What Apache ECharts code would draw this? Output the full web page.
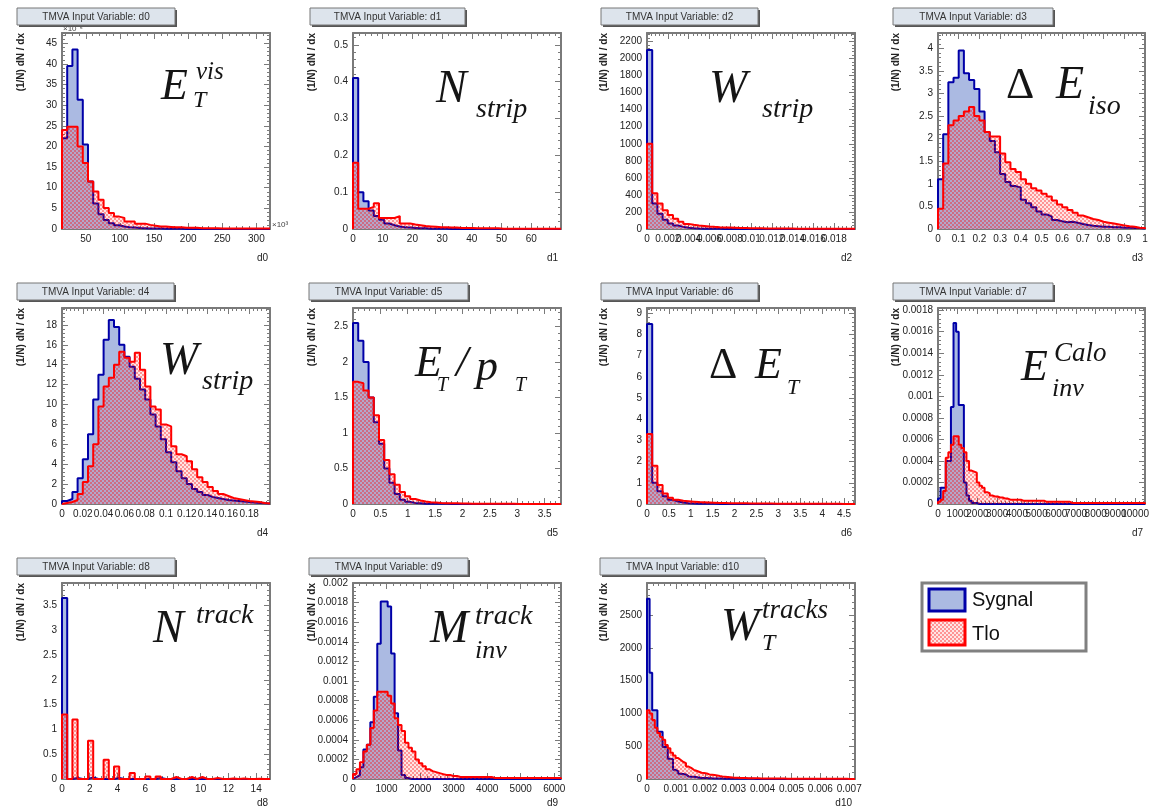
<!DOCTYPE html>
<html><head><meta charset="utf-8">
<script src="https://cdn.jsdelivr.net/npm/echarts@6/dist/echarts.min.js"></script>
<style>html,body{margin:0;padding:0;background:#fff}#c{width:1154px;height:810px}</style>
</head><body><div id="c"></div>
<script>
// ---------------- DATA (histogram bin contents) ----------------
const varNames = ['d0','d1','d2','d3','d4','d5','d6','d7','d8','d9','d10'];
const legendNames = ['Sygnal','Tlo'];

const d0_sig = [22,39.5,43.5,31.3,20.5,11.5,6.2,3.6,2.2,1.4,0.9,0.6,0.45,0.35,0.25,0.2,0.15,0.12,0.1,0.08,0.06,0.05,0.04,0.03,0.03,0.02,0.02,0.02,0.01,0.01,0.01,0.01,0.01,0,0,0,0,0,0,0];
const d0_bkg = [24,24.8,24.8,20,16,11.5,9.1,7.1,5.1,3.9,3.0,2.7,1.8,1.8,1.3,1.3,1.0,0.8,0.6,0.6,0.5,0.4,0.4,0.3,0.3,0.3,0.2,0.2,0.2,0.2,0.15,0.15,0.1,0.1,0.1,0.1,0.1,0.1,0.1,0.1];

const d1_sig = [0.41,0.10,0.075,0.05,0.035,0.025,0.015,0.01,0.007,0.005,0.004,0.003,0.002,0.002,0.001,0.001,0.001,0.001,0,0,0,0,0,0,0,0,0,0,0,0,0,0,0,0,0,0,0,0,0,0];
const d1_bkg = [0.18,0.055,0.055,0.06,0.07,0.03,0.03,0.03,0.035,0.015,0.015,0.012,0.01,0.008,0.007,0.006,0.005,0.005,0.004,0.004,0.003,0.003,0.003,0.002,0.002,0.002,0.002,0.002,0.001,0.001,0.001,0.001,0.001,0.001,0.001,0.001,0.001,0.001,0.001,0.001];

const d2_sig = [2100,300,180,110,65,40,25,15,10,6,4,3,2,1.5,1,1,0.5,0.5,0.5,0.3,0.3,0.2,0.2,0.1,0.1,0,0,0,0,0,0,0,0,0,0,0,0,0,0,0];
const d2_bkg = [1000,420,300,220,165,120,85,60,50,42,36,30,25,21,19,17,15,13,12,10,9,8,7,7,6,6,5,5,4,4,4,3,3,3,3,2,2,2,2,2];

const d3_sig = [1.1,2.1,3.25,3.35,3.95,3.45,3.3,3.1,2.6,2.15,1.95,1.7,1.22,1.04,0.95,0.92,0.65,0.57,0.48,0.39,0.32,0.28,0.2,0.17,0.15,0.16,0.14,0.11,0.09,0.07,0.06,0.05,0.05,0.04,0.04,0.03,0.03,0.02,0.02,0.01];
const d3_bkg = [0.45,1.45,2.3,2.4,2.5,2.6,2.7,2.5,2.4,2.15,2.05,2.05,1.67,1.48,1.33,1.26,1.1,1.0,0.9,0.85,0.78,0.72,0.63,0.54,0.48,0.42,0.36,0.3,0.26,0.22,0.2,0.16,0.14,0.12,0.1,0.08,0.06,0.05,0.03,0.02];

const d4_sig = [0.3,0.5,1.2,2.6,4.5,7.0,10.5,13.0,16.5,18.5,17.8,16.0,14.8,13.8,12.6,11.5,10.5,9.0,7.8,6.5,5.2,4.2,3.3,2.6,2.0,1.5,1.2,0.9,0.7,0.6,0.5,0.4,0.35,0.3,0.25,0.2,0.15,0.1,0.08,0.05];
const d4_bkg = [0.1,0.2,0.4,1.0,2.2,3.8,6.0,9.8,11.8,12.7,14.0,15.3,14.7,14.3,15.2,13.5,11.8,9.8,9.5,8.0,7.8,5.8,5.0,4.8,4.3,3.5,2.7,2.2,1.7,1.3,1.0,0.8,0.6,0.5,0.4,0.3,0.25,0.2,0.1,0.05];

const d5_sig = [2.55,2.3,2.0,1.5,1.15,0.85,0.5,0.3,0.14,0.06,0.03,0.015,0.01,0.005,0.005,0.003,0.002,0.002,0.001,0.001,0,0,0,0,0,0,0,0,0,0,0,0,0,0,0,0,0,0,0,0];
const d5_bkg = [1.72,1.70,1.6,1.5,1.25,0.9,0.62,0.42,0.27,0.17,0.11,0.07,0.05,0.035,0.025,0.02,0.015,0.012,0.01,0.01,0.008,0.007,0.005,0.004,0.003,0.003,0.003,0.002,0.002,0.002,0.002,0.001,0.001,0.001,0.001,0.001,0.001,0.001,0.001,0.001];

const d6_sig = [8.5,1.0,0.6,0.37,0.2,0.12,0.07,0.04,0.025,0.015,0.01,0.008,0.006,0.005,0.004,0.003,0.002,0.002,0.001,0.001,0,0,0,0,0,0,0,0,0,0,0,0,0,0,0,0,0,0,0,0];
const d6_bkg = [3.3,1.8,0.9,0.5,0.3,0.2,0.15,0.13,0.11,0.09,0.08,0.07,0.06,0.05,0.045,0.04,0.035,0.03,0.03,0.025,0.025,0.02,0.02,0.02,0.015,0.015,0.015,0.01,0.01,0.01,0.01,0.01,0.01,0.008,0.008,0.006,0.006,0.005,0.005,0.005];

const d7_sig = [0.00005,0.00015,0.00015,0.0004,0.0004,0.0009,0.00168,0.0016,0.00092,0.00092,0.0002,0.00008,0.00003,0.00001,0.00001,0,0,0,0,0,0,0,0,0,0,0,0,0,0,0,0,0,0,0,0,0,0,0,0,0,0,0,0,0,0,0,0,0,0,0,0,0,0,0,0,0,0,0,0,0,0,0,0,0,0,0,0,0,0,0,0,0,0,0,0,0,0,0,0,0];
const d7_bkg = [0.00002,0.00004,0.00012,0.00043,0.00048,0.00055,0.00063,0.00063,0.00055,0.00052,0.00048,0.0004,0.00031,0.0003,0.00029,0.0002,0.00017,0.00015,0.00011,0.0001,0.00008,0.00007,0.00007,0.00006,0.00006,0.00005,0.00005,0.00004,0.00004,0.00004,0.00004,0.00004,0.00003,0.00003,0.00003,0.00003,0.00003,0.00003,0.00003,0.00003,0.00003,0.00002,0.00002,0.00002,0.00002,0.00002,0.00002,0.00002,0.00002,0.00002,0.00002,0.00001,0.00001,0.00001,0.00001,0.00001,0.00001,0.00001,0.00001,0.00001,0.00001,0.00001,0.00001,0.00001,0.00001,0.00001,0.00001,0.00001,0.00001,0.00001,0.00001,0.00001,0.00001,0.00001,0.00001,0.00001,0.00001,0.00001,0.00001,0.00001];

const d8_sig = [3.65,0,0.02,0,0,0.03,0,0,0,0,0.02,0,0,0,0,0,0,0,0.02,0,0,0,0,0,0,0,0,0,0,0,0,0,0,0,0,0,0,0,0,0];
const d8_bkg = [1.3,0,1.2,0,0,0.77,0,0,0.39,0,0.25,0,0,0.12,0,0,0.05,0,0.05,0,0,0.04,0,0,0.04,0,0.04,0,0,0.02,0,0,0.01,0,0.01,0,0,0.005,0,0];

const d9_sig = [0.00002,0.00004,0.00012,0.0003,0.00035,0.00058,0.00084,0.00138,0.00181,0.00181,0.00176,0.00128,0.00067,0.00029,0.00004,0.00001,0,0,0,0,0,0,0,0,0,0,0,0,0,0,0,0,0,0,0,0,0,0,0,0,0,0,0,0,0,0,0,0,0,0,0,0,0,0,0,0,0,0,0,0];
const d9_bkg = [0.00005,0.0001,0.00017,0.00028,0.00035,0.00052,0.0007,0.00089,0.00089,0.00089,0.00085,0.00077,0.00062,0.00055,0.00049,0.00037,0.00032,0.00028,0.0002,0.00016,0.00013,0.0001,0.00008,0.00007,0.00006,0.00005,0.00004,0.00004,0.00003,0.00003,0.00002,0.00002,0.00002,0.00002,0.00002,0.00002,0.00002,0.00002,0.00002,0.00002,0.00001,0.00001,0.00001,0.00001,0.00001,0.00001,0.00001,0.00001,0.00001,0.00001,0.00001,0.00001,0.00001,0.00001,0.00001,0.00001,0.00001,0.00001,0.00001,0.00001];

const d10_sig = [2750,1620,1050,1050,720,720,490,490,310,300,140,120,80,75,70,40,36,34,30,18,16,15,14,12,10,9,8,7,6,5,5,4,4,3,3,3,2,2,2,2,2,1,1,1,1,1,1,1,1,1,0,0,0,0,0,0,0,0,0,0,0,0,0,0,0,0,0,0,0,0,0,0,0,0,0,0,0,0,0,0];
const d10_bkg = [1050,1000,900,780,700,640,600,520,470,400,360,320,290,260,240,190,170,140,125,110,95,90,85,70,65,60,55,45,40,36,32,28,22,20,18,16,15,14,13,12,11,10,10,9,9,8,8,7,7,7,6,6,6,5,5,5,5,5,4,4,4,4,4,3,3,3,3,3,3,2,2,2,2,2,2,2,2,1,1,1];

const sigData = [d0_sig,d1_sig,d2_sig,d3_sig,d4_sig,d5_sig,d6_sig,d7_sig,d8_sig,d9_sig,d10_sig];
const bkgData = [d0_bkg,d1_bkg,d2_bkg,d3_bkg,d4_bkg,d5_bkg,d6_bkg,d7_bkg,d8_bkg,d9_bkg,d10_bkg];

// axis ranges (histogram range = x-axis range)
const xMins = [15,0,0,0,0,0,0,0,0,0,0];
const xMaxs = [320,70,0.02,1,0.2,3.8,4.75,10500,15,6200,0.0072];
const xInts = [null,10,0.002,0.1,0.02,0.5,0.5,1000,2,1000,0.001];
const yMaxs = [47.5,0.532,2300,4.34,19.7,2.76,9.25,0.00182,3.95,0.002,2990];
const yInts = [5,0.1,200,0.5,2,0.5,1,0.0002,0.5,0.0002,500];

// ---------------- LAYOUT / STYLE ----------------
const colL = [62,353,647,938], colW = [208,208,208,207];
const rowT = [33,308,583], rowH = 196;
const titleBoxX = [[17,175],[310,465],[601,758],[893,1053],[17,174],[309,468],[601,758],[893,1053],[17,175],[309,468],[600,765]];
const titleBoxY = [8,283,558];
const yTitleX = [21,312,604,896];
const xNameX = [268,558,852,1143], xNameY = [258,533,803];

const showXMax = [false,false,false,true,false,false,false,false,false,false,false];
const showYMax = [false,false,false,false,false,false,false,false,false,true,false];

const AX = '#7a7a7a';
const pc = document.createElement('canvas'); pc.width = 4; pc.height = 4;
const cx = pc.getContext('2d');
cx.fillStyle = 'rgba(255,0,0,0.42)'; cx.fillRect(0,0,2,2); cx.fillRect(2,2,2,2);
cx.fillStyle = 'rgba(255,0,0,0.10)'; cx.fillRect(2,0,2,2); cx.fillRect(0,2,2,2);
const hatch = {image: pc, repeat: 'repeat'};

function fmt(v){ return String(parseFloat(Number(v).toPrecision(10))); }

function hist(min, max, vals){
  const n = vals.length, w = (max - min) / n, pts = [[min, 0]];
  for (let i = 0; i < n; i++) pts.push([min + i * w, vals[i]]);
  pts.push([max, vals[n-1]]); pts.push([max, 0]);
  return pts;
}

const option = {animation:false, backgroundColor:'#fff', grid:[], xAxis:[], yAxis:[], series:[], graphic:[]};
const lab = {fontSize:10, color:'#222', fontFamily:'Liberation Sans, Arial, sans-serif'};

for (let i = 0; i < 11; i++){
  const c = i % 4, r = Math.floor(i / 4);
  option.grid.push({left:colL[c], top:rowT[r], width:colW[c], height:rowH, show:false});
  ['bottom','top'].forEach(pos => {
    const ax = {type:'value', gridIndex:i, position:pos, min:xMins[i], max:xMaxs[i],
      axisLine:{show:true, onZero:false, lineStyle:{color:AX, width:2}},
      axisTick:{show:true, inside:true, length:6, lineStyle:{color:AX, width:1}},
      minorTick:{show:true, splitNumber:5, length:3, lineStyle:{color:AX, width:1}},
      splitLine:{show:false}, minorSplitLine:{show:false},
      axisLabel:Object.assign({show:pos==='bottom', margin:5, formatter:fmt,
        showMinLabel: i !== 0, showMaxLabel: showXMax[i]}, lab)};
    if (xInts[i]) ax.interval = xInts[i]; else ax.splitNumber = 6;
    option.xAxis.push(ax);
  });
  ['left','right'].forEach(pos => {
    option.yAxis.push({type:'value', gridIndex:i, position:pos, min:0, max:yMaxs[i], interval:yInts[i],
      axisLine:{show:true, onZero:false, lineStyle:{color:AX, width:2}},
      axisTick:{show:true, inside:true, length:6, lineStyle:{color:AX, width:1}},
      minorTick:{show:true, splitNumber:5, length:3, lineStyle:{color:AX, width:1}},
      splitLine:{show:false}, minorSplitLine:{show:false},
      axisLabel:Object.assign({show:pos==='left', margin:5, formatter:fmt, showMaxLabel: showYMax[i]}, lab)});
  });
  option.series.push({type:'line', name:legendNames[0], xAxisIndex:2*i, yAxisIndex:2*i,
    data:hist(xMins[i], xMaxs[i], sigData[i]), step:'end', symbol:'none', silent:true, clip:true, z:2,
    lineStyle:{color:'#0000a8', width:2}, areaStyle:{color:'#abbae2', opacity:1}});
  option.series.push({type:'line', name:legendNames[1], xAxisIndex:2*i, yAxisIndex:2*i,
    data:hist(xMins[i], xMaxs[i], bkgData[i]), step:'end', symbol:'none', silent:true, clip:true, z:3,
    lineStyle:{color:'#ff0000', width:2}, areaStyle:{color:hatch, opacity:1}});

  // title box
  const [bx0, bx1] = titleBoxX[i], by = titleBoxY[r];
  option.graphic.push({type:'rect', shape:{x:bx0+2, y:by+2, width:bx1-bx0, height:17}, style:{fill:'#555'}, z:10});
  option.graphic.push({type:'rect', shape:{x:bx0, y:by, width:bx1-bx0, height:17}, style:{fill:'#dde4ec', stroke:'#777', lineWidth:1}, z:11});
  option.graphic.push({type:'text', x:(bx0+bx1)/2, y:by+9, z:12,
    style:{text:'TMVA Input Variable: ' + varNames[i], fill:'#333', font:'10px Liberation Sans, Arial, sans-serif', align:'center', verticalAlign:'middle', textAlign:'center', textVerticalAlign:'middle'}});
  // y title
  option.graphic.push({type:'text', x:yTitleX[c], y:rowT[r], rotation:Math.PI/2, z:12,
    style:{text:'(1/N) dN / dx', fill:'#222', font:'bold 10px Liberation Sans, Arial, sans-serif', align:'right', verticalAlign:'middle', textAlign:'right', textVerticalAlign:'middle'}});
  // x name
  option.graphic.push({type:'text', x:xNameX[c], y:xNameY[r], z:12,
    style:{text:varNames[i], fill:'#222', font:'10px Liberation Sans, Arial, sans-serif', align:'right', verticalAlign:'middle', textAlign:'right', textVerticalAlign:'middle'}});
}

// exponent labels of panel d0
option.graphic.push({type:'text', x:63, y:29, style:{text:'×10⁻⁶', fill:'#444', font:'8px Liberation Sans, Arial, sans-serif', align:'left', verticalAlign:'middle'}});
option.graphic.push({type:'text', x:272, y:225, style:{text:'×10³', fill:'#444', font:'8px Liberation Sans, Arial, sans-serif', align:'left', verticalAlign:'middle'}});

// variable symbols (LaTeX-like labels)
const sym = [
  ['E',161,87,44,1],['vis',196,72,25,1],['T',193,101,24,1],
  ['N',436,90,46,1],['strip',476,110,28,1],
  ['W',709,90,46,1],['strip',762,110,28,1],
  ['Δ',1006,86,44,0],['E',1056,86,46,1],['iso',1088,107,28,1],
  ['W',160,362,46,1],['strip',202,382,28,1],
  ['E',415,364,44,1],['T',437,386,20,1],['/',456,364,44,1],['p',476,368,44,1],['T',515,386,20,1],
  ['Δ',709,366,44,0],['E',755,366,44,1],['T',787,388,22,1],
  ['E',1021,368,44,1],['Calo',1054,354,27,1],['inv',1052,389,26,1],
  ['N',153,630,46,1],['track',196,616,28,1],
  ['M',430,630,46,1],['track',475,617,28,1],['inv',475,651,26,1],
  ['W',721,628,46,1],['tracks',762,611,27,1],['T',762,644,24,1]
];
sym.forEach(s => option.graphic.push({type:'text', x:s[1], y:s[2], z:15,
  style:{text:s[0], fill:'#151515', font:(s[4]?'italic ':'') + s[3] + 'px Liberation Serif, Times New Roman, serif', align:'left', verticalAlign:'middle', textAlign:'left', textVerticalAlign:'middle'}}));

// legend box
option.graphic.push({type:'rect', shape:{x:922, y:583, width:164, height:68}, style:{fill:'#fff', stroke:'#808080', lineWidth:3}, z:20});
option.graphic.push({type:'rect', shape:{x:929, y:589, width:36, height:22}, style:{fill:'#abbae2', stroke:'#0000a8', lineWidth:3}, z:21});
option.graphic.push({type:'rect', shape:{x:929, y:620, width:36, height:25}, style:{fill:hatch, stroke:'#ff0000', lineWidth:3}, z:21});
option.graphic.push({type:'text', x:972, y:600, z:21, style:{text:legendNames[0], fill:'#111', font:'20px Liberation Sans, Arial, sans-serif', align:'left', verticalAlign:'middle', textAlign:'left', textVerticalAlign:'middle'}});
option.graphic.push({type:'text', x:972, y:634, z:21, style:{text:legendNames[1], fill:'#111', font:'20px Liberation Sans, Arial, sans-serif', align:'left', verticalAlign:'middle', textAlign:'left', textVerticalAlign:'middle'}});

const chart = echarts.init(document.getElementById('c'), null, {renderer:'canvas'});
chart.setOption(option);
</script></body></html>
